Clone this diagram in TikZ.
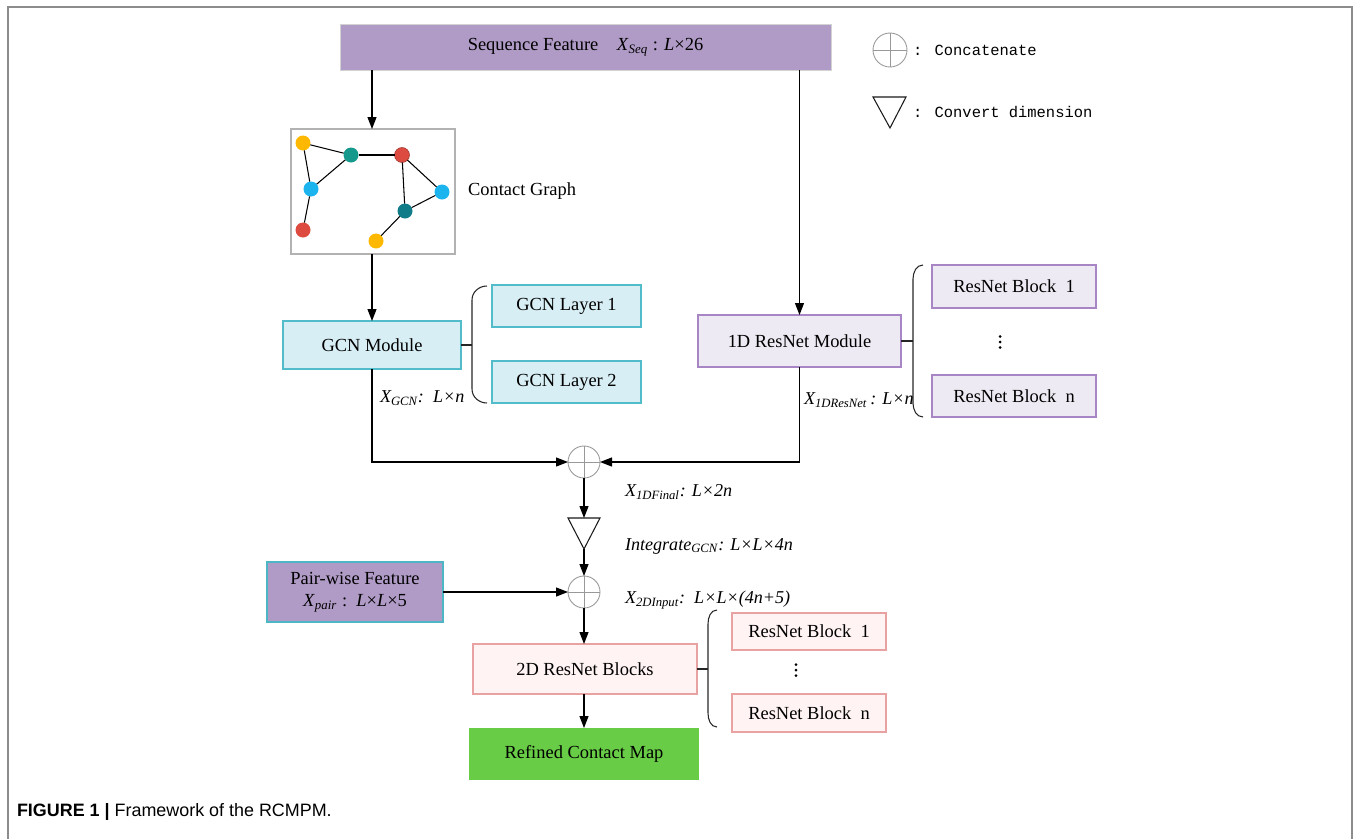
\documentclass[tikz,border=0pt]{standalone}
\usepackage{fontspec}
\setmainfont{Liberation Serif}
\newfontfamily\legendfont{Liberation Mono}
\newfontfamily\captionfont{Liberation Sans}
\usetikzlibrary{arrows.meta}

\definecolor{seqpurple}{HTML}{B09BC6}
\definecolor{pairline}{HTML}{4DB6C4}
\definecolor{gcnfill}{HTML}{D7EEF4}
\definecolor{gcnline}{HTML}{52BCCA}
\definecolor{resfill}{HTML}{EEEAF3}
\definecolor{resline}{HTML}{A886C6}
\definecolor{pinkfill}{HTML}{FFF3F3}
\definecolor{pinkline}{HTML}{E8A2A2}
\definecolor{mapgreen}{HTML}{68CC46}
\definecolor{gyellow}{HTML}{FFB800}
\definecolor{gteal}{HTML}{14998C}
\definecolor{gred}{HTML}{DD4A40}
\definecolor{gblue}{HTML}{1CB4EE}
\definecolor{gdteal}{HTML}{0F7C88}

\begin{document}
\begin{tikzpicture}[x=0.02cm,y=-0.02cm,
  every node/.style={inner sep=0pt,outer sep=0pt},
  txt/.style={font=\fontsize{10.5}{12.6}\selectfont},
  lbl/.style={anchor=west,font=\fontsize{10.3}{12.4}\selectfont\itshape},
  seqbox/.style={rectangle,fill=seqpurple,draw=gray!35,line width=0.5pt,txt},
  pairbox/.style={rectangle,fill=seqpurple,draw=pairline,line width=0.7pt,txt,align=center},
  gcnbox/.style={rectangle,fill=gcnfill,draw=gcnline,line width=0.7pt,txt},
  resbox/.style={rectangle,fill=resfill,draw=resline,line width=0.7pt,txt},
  pinkbox/.style={rectangle,fill=pinkfill,draw=pinkline,line width=0.7pt,txt},
  mapbox/.style={rectangle,fill=mapgreen,txt},
  graphbox/.style={rectangle,draw=gray!60,line width=0.7pt},
  gnode/.style={circle,minimum size=0.3cm},
  concat/.style={circle,draw=gray!80,line width=0.5pt,minimum size=0.64cm,
    path picture={\draw[gray!80,line width=0.4pt]
      (path picture bounding box.north) -- (path picture bounding box.south)
      (path picture bounding box.west) -- (path picture bounding box.east);}},
  conn/.style={line width=0.7pt,-{Triangle[length=2.4mm,width=1.8mm]}},
  bracket/.style={line width=0.6pt,gray!30!black},
  vdot/.style={circle,fill=black,minimum size=0.06cm}
]
%
\path[use as bounding box] (0,0) rectangle (1356,839);
%
% frame
\draw[gray!90,line width=0.8pt] (8,839) -- (8,7) -- (1352,7) -- (1352,839);
%
\newcommand{\modbox}[7]{
  \pgfmathsetmacro{\boxw}{(#4-#2)*0.02}
  \pgfmathsetmacro{\boxh}{(#5-#3)*0.02}
  \node[#6,minimum width=\boxw cm,minimum height=\boxh cm] (#1) at ({(#2+#4)/2},{(#3+#5)/2}) {#7};
}
\newcommand{\bracketline}[5]{
  \coordinate (#1brk) at (#2,0);
  \draw[bracket] (#1.east) -- (#1.east -| #1brk);
  \draw[bracket] (#3,#4) to[out=180,in=90] (#2,#4+14) -- (#2,#5-14) to[out=-90,in=180] (#3,#5);
}
\newcommand{\dotcol}[3]{
  \foreach \k in {-1,0,1}
    \node[vdot] (#1\k) at (#2,#3+5.5*\k) {};
}
%
\modbox{seq}{340}{24}{831}{70}{seqbox}{Sequence Feature\quad\textit{X}\textsubscript{\textit{Seq}} : \textit{L}×26}
\modbox{graph}{291}{129}{455}{254}{graphbox}{}
\modbox{gcn}{283}{321}{461}{369}{gcnbox}{GCN Module}
\modbox{gcn1}{492}{285}{641}{327}{gcnbox}{GCN Layer 1}
\modbox{gcn2}{492}{361}{641}{403}{gcnbox}{GCN Layer 2}
\modbox{res1d}{698}{315}{901}{367}{resbox}{1D ResNet Module}
\modbox{resa}{932}{265}{1096}{308}{resbox}{ResNet Block\ \ 1}
\modbox{resn}{932}{375}{1096}{417}{resbox}{ResNet Block\ \ n}
\modbox{pair}{267}{562}{443}{622}{pairbox}{Pair-wise Feature\\\textit{X}\textsubscript{\textit{pair}} :\ \ \textit{L}×\textit{L}×5}
\modbox{res2d}{473}{644}{697}{694}{pinkbox}{2D ResNet Blocks}
\modbox{resb}{732}{613}{886}{650}{pinkbox}{ResNet Block\ \ 1}
\modbox{resm}{732}{694}{886}{732}{pinkbox}{ResNet Block\ \ n}
\modbox{refined}{469}{728}{699}{780}{mapbox}{Refined Contact Map}
%
% contact graph
\node[gnode,fill=gyellow] (ga) at (303,143) {};
\node[gnode,fill=gteal] (gb) at (351,155) {};
\node[gnode,fill=gred,draw=gred!70!black,line width=0.3pt] (gc) at (402,155) {};
\node[gnode,fill=gblue] (gd) at (311,189) {};
\node[gnode,fill=gblue] (ge) at (442,192) {};
\node[gnode,fill=gdteal] (gf) at (405,211) {};
\node[gnode,fill=gred] (gg) at (303,230) {};
\node[gnode,fill=gyellow] (gh) at (376,241) {};
\begin{scope}[line width=0.6pt]
  \draw (ga) -- (gb);
  \draw (ga) -- (gd);
  \draw (gb) -- (gd);
  \draw (gb) -- (gc);
  \draw (gc) -- (ge);
  \draw (gc) -- (gf);
  \draw (ge) -- (gf);
  \draw (gf) -- (gh);
  \draw (gd) -- (gg);
\end{scope}
\node[txt,anchor=west] (graphtxt) at (468,191) {Contact Graph};
%
% concatenations
\node[concat] (cat1) at (584,462) {};
\node[concat] (cat2) at (584,592) {};
\draw[line width=0.6pt,gray!20!black] (568,518) -- (600,518) -- (584,549) -- cycle;
\coordinate (tritop) at (584,518);
\coordinate (tribot) at (584,549);
%
% brackets
\bracketline{gcn}{472}{487}{286}{403}
\bracketline{res1d}{913}{923}{265}{417}
\bracketline{res2d}{708}{717}{610}{727}
\dotcol{dotsa}{1000}{342}
\dotcol{dotsb}{796}{670}
%
% labels
\node[lbl] (xgcn) at (380,398) {X\textsubscript{GCN}:\ \ L×n};
\node[lbl] (xres) at (804,400) {X\textsubscript{1DResNet}\,: L×n};
\node[lbl] (xfinal) at (625,492) {X\textsubscript{1DFinal}: L×2n};
\node[lbl] (xinteg) at (625,546) {Integrate\textsubscript{GCN}: L×L×4n};
\node[lbl] (xinput) at (625,600) {X\textsubscript{2DInput}:\ \ L×L×(4n+5)};
%
% connectors
\begin{scope}[conn]
  \draw (gcn.north |- seq.south) -- (gcn.north |- graph.north);
  \draw (res1d.north |- seq.south) -- (res1d.north);
  \draw (gcn.north |- graph.south) -- (gcn.north);
  \draw (gcn.south) |- (cat1.west);
  \draw (res1d.south) |- (cat1.east);
  \draw (cat1.south) -- (tritop);
  \draw (tribot) -- (cat2.north);
  \draw (pair.east) -- (cat2.west);
  \draw (cat2.south) -- (cat2.south |- res2d.north);
  \draw (cat2.south |- res2d.south) -- (cat2.south |- refined.north);
\end{scope}
%
% legend
\node[concat,minimum size=0.68cm] (legcat) at (890,50) {};
\node[anchor=west,font=\legendfont\fontsize{8.8}{10}\selectfont] (legcattxt) at (913,50) {: Concatenate};
\draw[line width=0.6pt,gray!20!black] (873,97) -- (906,97) -- (890,128) -- cycle;
\node[anchor=west,font=\legendfont\fontsize{8.8}{10}\selectfont] (legtritxt) at (913,112) {: Convert dimension};
%
% caption
\node[anchor=west,font=\captionfont\fontsize{10.2}{12}\selectfont] (caption) at (17,812) {\textbf{FIGURE 1 |} Framework of the RCMPM.};
%
\end{tikzpicture}
\end{document}
